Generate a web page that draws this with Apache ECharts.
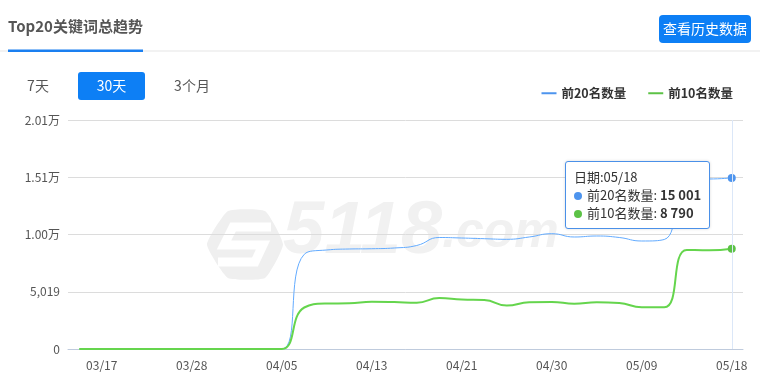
<!DOCTYPE html>
<html>
<head>
<meta charset="utf-8">
<script src="https://cdn.jsdelivr.net/npm/echarts@6/dist/echarts.min.js"></script>
<style>
html,body{margin:0;padding:0;background:#fff;}
#chart{width:760px;height:388px;}
</style>
</head>
<body>
<div id="chart"></div>
<script>
// ---- data ----
var dates = ['03/15','03/17','03/20','03/23','03/25','03/28','03/30','04/01','04/03','04/05',
             '04/07','04/09','04/11','04/13','04/15','04/17','04/19','04/21','04/23','04/25',
             '04/28','04/30','05/02','05/04','05/07','05/09','05/11','05/13','05/16','05/18'];
var top20 = [0,0,0,0,0,0,0,0,0,0,
             8300,8680,8767,8790,8855,9074,9775,9731,9670,9617,
             9819,10108,9819,9907,9775,9468,9600,14900,14904,15001];
var top10 = [0,0,0,0,0,0,0,0,0,0,
             3638,3989,4006,4147,4120,4059,4471,4340,4296,3813,
             4094,4120,3971,4094,4033,3656,3656,8679,8653,8790];
var seriesNames = ['前20名数量','前10名数量'];
var yMax = 20076, yInterval = 5019;
var tabs = ['7天','30天','3个月'];

var FONT = '"Noto Sans CJK SC", "Noto Sans", sans-serif';
function fmtSpace(v){ return String(v).replace(/\B(?=(\d{3})+(?!\d))/g,' '); }
function fmtY(v){
  if (v >= 10000) return (v/10000).toFixed(2) + '万';
  return String(v).replace(/\B(?=(\d{3})+(?!\d))/g, ',');
}

var chart = echarts.init(document.getElementById('chart'), null, {renderer:'canvas'});
var option = {
  animation: false,
  textStyle: {fontFamily: FONT},
  graphic: [
    // watermark logo
    {type:'polygon', z:0, silent:true, shape:{points:[[228,211],[265,211],[283,244.5],[265,278],[228,278],[207,244.5]], smooth:0.15},
      style:{fill:'#efefef'}},
    {type:'polyline', z:0, silent:true, shape:{points:[[271,227],[233,227],[224,245],[263,245],[255,262],[218,262]]},
      style:{stroke:'#ffffff', lineWidth:9, fill:null, lineJoin:'miter'}},
    {type:'text', z:0, silent:true, left:283, top:196,
      style:{text:'{a|5118}{b|.com}', fill:'#f1f1f1',
        rich:{a:{font:'italic bold 74px "Liberation Sans", sans-serif', fill:'#f1f1f1'},
              b:{font:'italic bold 50px "Liberation Sans", sans-serif', fill:'#f1f1f1'}}}},
    // header
    {type:'text', left:8, top:19, style:{text:'Top20关键词总趋势', font:'bold 15px ' + FONT, fill:'#555555'}},
    {type:'rect', shape:{x:0, y:50.5, width:760, height:1}, style:{fill:'#e6e6e6'}},
    {type:'rect', shape:{x:8, y:49.5, width:135, height:2.5}, style:{fill:'#1a7ff0'}},
    {type:'rect', shape:{x:659, y:15, width:92, height:28, r:4}, style:{fill:'#0d7ff5'}},
    {type:'text', x:705, y:29, style:{text:'查看历史数据', font:'14px ' + FONT, fill:'#ffffff', align:'center', verticalAlign:'middle'}},
    // tabs
    {type:'text', x:38, y:86, style:{text:tabs[0], font:'14px ' + FONT, fill:'#555555', align:'center', verticalAlign:'middle'}},
    {type:'rect', shape:{x:78, y:72, width:67, height:28, r:3}, style:{fill:'#0d7ff5'}},
    {type:'text', x:111.5, y:86, style:{text:tabs[1], font:'14px ' + FONT, fill:'#ffffff', align:'center', verticalAlign:'middle'}},
    {type:'text', x:192, y:86, style:{text:tabs[2], font:'14px ' + FONT, fill:'#555555', align:'center', verticalAlign:'middle'}}
  ],
  legend: {
    right: 22, top: 82,
    itemWidth: 15, itemHeight: 2, itemGap: 22,
    icon: 'rect',
    textStyle: {fontWeight:'bold', fontSize:12.5, color:'#333', fontFamily: FONT},
    data: seriesNames
  },
  grid: {left: 68, right: 17, top: 120, bottom: 39},
  tooltip: {
    trigger: 'axis',
    triggerOn: 'none',
    alwaysShowContent: true,
    position: [565, 161],
    backgroundColor: '#fff',
    borderColor: '#4a90e8',
    borderWidth: 1,
    padding: [6, 8],
    textStyle: {fontSize: 13, color: '#333', fontFamily: FONT, lineHeight: 18},
    extraCssText: 'border-radius:3px;box-shadow:0 0 3px rgba(0,0,0,0.15);line-height:18px;',
    axisPointer: {type:'line', lineStyle:{color:'#dbe7f8', width:1, type:'solid'}},
    formatter: function(params){
      var s = '日期:' + params[0].axisValue;
      params.forEach(function(p){
        s += '<br/><span style="display:inline-block;width:8px;height:8px;border-radius:4px;margin-right:5px;background:' + p.color + ';"></span>'
          + p.seriesName + ': <b>' + fmtSpace(p.value) + '</b>';
      });
      return s;
    }
  },
  xAxis: {
    type: 'category',
    data: dates,
    boundaryGap: true,
    axisLine: {lineStyle: {color: '#bfcbdd'}},
    axisTick: {length: 8, lineStyle:{color:'#bfcbdd'}, interval: function(i){ return i === 0 || i % 4 === 2; }},
    axisLabel: {color:'#555', fontSize: 12, margin: 10, fontFamily: FONT, interval: function(i){ return i % 4 === 1; }}
  },
  yAxis: {
    type: 'value',
    min: 0, max: yMax, interval: yInterval,
    axisLine: {show:false},
    axisTick: {show:false},
    splitLine: {lineStyle:{color:'#dcdcdc'}},
    axisLabel: {color:'#555', fontSize: 12, fontFamily: FONT, formatter: fmtY}
  },
  series: [
    {name: seriesNames[0], type:'line', smooth:true, showSymbol:false, symbol:'circle', symbolSize:8,
      data: top20, itemStyle:{color:'#4d94ee'}, lineStyle:{color:'#5a9cf0', width:1},
      emphasis:{disabled:false, scale:false}},
    {name: seriesNames[1], type:'line', smooth:true, showSymbol:false, symbol:'circle', symbolSize:8,
      data: top10, itemStyle:{color:'#5cc246'}, lineStyle:{color:'#5cc246', width:2},
      emphasis:{disabled:false, scale:false}}
  ]
};
chart.setOption(option);
setTimeout(function(){
  chart.dispatchAction({type:'showTip', seriesIndex:0, dataIndex: dates.length - 1});
}, 50);
</script>
</body>
</html>
